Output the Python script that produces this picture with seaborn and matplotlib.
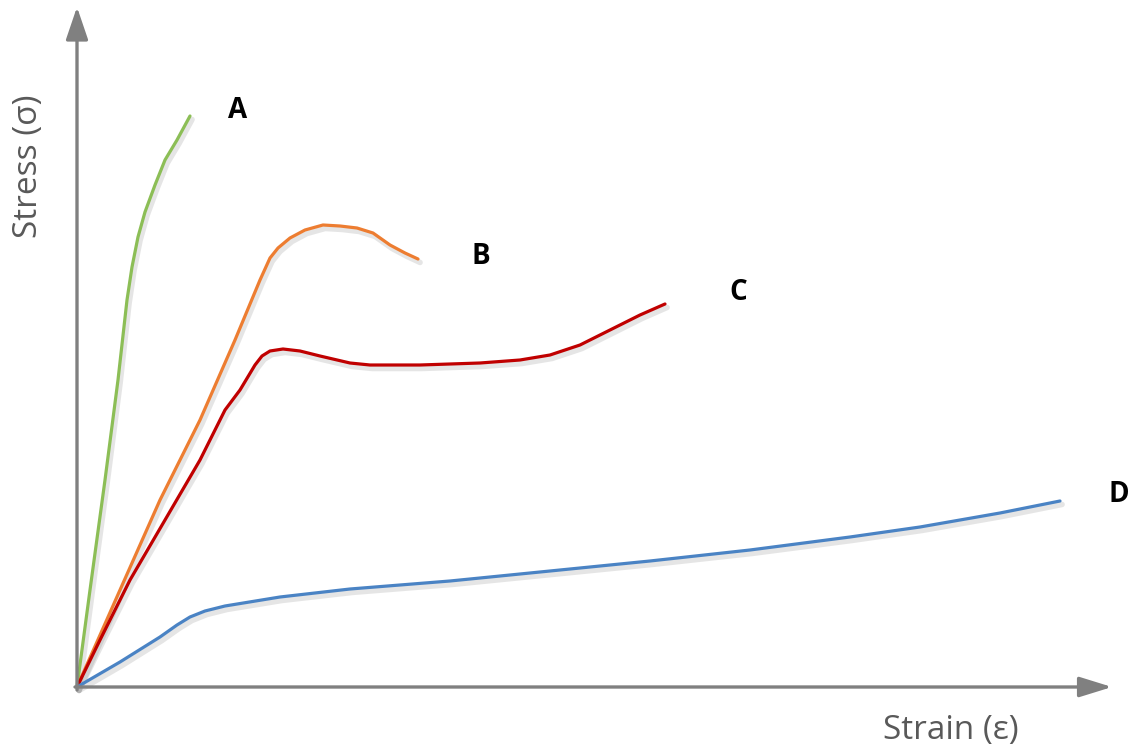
import matplotlib
matplotlib.use("Agg")
import matplotlib.pyplot as plt
import matplotlib.patheffects as pe
import seaborn as sns
import pandas as pd

# Data (strain, stress) in arbitrary units
a_strain = [0, 13, 28, 41, 50, 55, 61, 68, 78, 88, 100, 113]
a_stress = [0, 97, 207, 307, 387, 420, 450, 475, 502, 527, 547, 571]

b_strain = [0, 43, 83, 123, 158, 183, 193, 201, 213, 228, 246, 263, 280, 296, 313, 328, 341]
b_stress = [0, 97, 187, 267, 347, 407, 429, 439, 449, 457, 462, 461, 459, 454, 442, 434, 428]

c_strain = [0, 23, 53, 88, 123, 148, 163, 178, 185, 193, 206, 223, 243, 273, 293, 343, 403, 443, 473, 503, 533, 563, 588]
c_stress = [0, 47, 107, 167, 227, 277, 297, 322, 331, 336, 338, 336, 331, 324, 322, 322, 324, 327, 332, 342, 357, 372, 383]

d_strain = [0, 43, 83, 100, 113, 128, 148, 203, 273, 373, 473, 573, 673, 773, 843, 923, 983]
d_stress = [0, 25, 50, 62, 70, 76, 81, 90, 98, 106, 116, 126, 137, 150, 160, 174, 186]

labels = ["A", "B", "C", "D"]
label_pos_strain = [161, 404, 661, 1042]
label_pos_stress = [577, 430, 395, 193]

colors = ["#8CBE56", "#ED7D31", "#C00000", "#4A83C4"]

sns.set_theme(style="white")
plt.rcParams['font.family'] = ['Open Sans', 'DejaVu Sans']

fig = plt.figure(figsize=(11.35, 7.52), dpi=100)
ax = fig.add_axes([0, 0, 1, 1])
ax.set_xlim(-77, 1058)
ax.set_ylim(-65, 687)
ax.axis("off")

axis_gray = "#808080"
# axes arrows
ax.annotate("", xy=(0, 680), xytext=(0, -3),
            arrowprops=dict(arrowstyle="-|>,head_length=2.0,head_width=0.68",
                            mutation_scale=10, color=axis_gray, lw=2.4,
                            shrinkA=0, shrinkB=0))
ax.annotate("", xy=(1035, 0), xytext=(-2, 0),
            arrowprops=dict(arrowstyle="-|>,head_length=2.0,head_width=0.62",
                            mutation_scale=10, color=axis_gray, lw=2.4,
                            shrinkA=0, shrinkB=0))

series = [(a_strain, a_stress), (b_strain, b_stress), (c_strain, c_stress), (d_strain, d_stress)]
shadow = [pe.SimpleLineShadow(offset=(1.5, -2.5), shadow_color="gray", alpha=0.2, linewidth=4), pe.Normal()]
for (xs, ys), col, lab in zip(series, colors, labels):
    df = pd.DataFrame({"strain": xs, "stress": ys})
    sns.lineplot(data=df, x="strain", y="stress", sort=False, ax=ax, color=col,
                 lw=2.3, path_effects=shadow, legend=False)

for lab, sx, sy in zip(labels, label_pos_strain, label_pos_stress):
    ax.text(sx, sy, lab, fontsize=20, fontweight="bold", color="black",
            ha="center", va="center")

ax.text(874, -43, "Strain (ε)", fontsize=24, color="#595959", ha="center", va="center")
ax.text(-49, 521, "Stress (σ)", fontsize=24, color="#595959", ha="center", va="center",
        rotation=90)

fig.savefig("out.png", dpi=100)
